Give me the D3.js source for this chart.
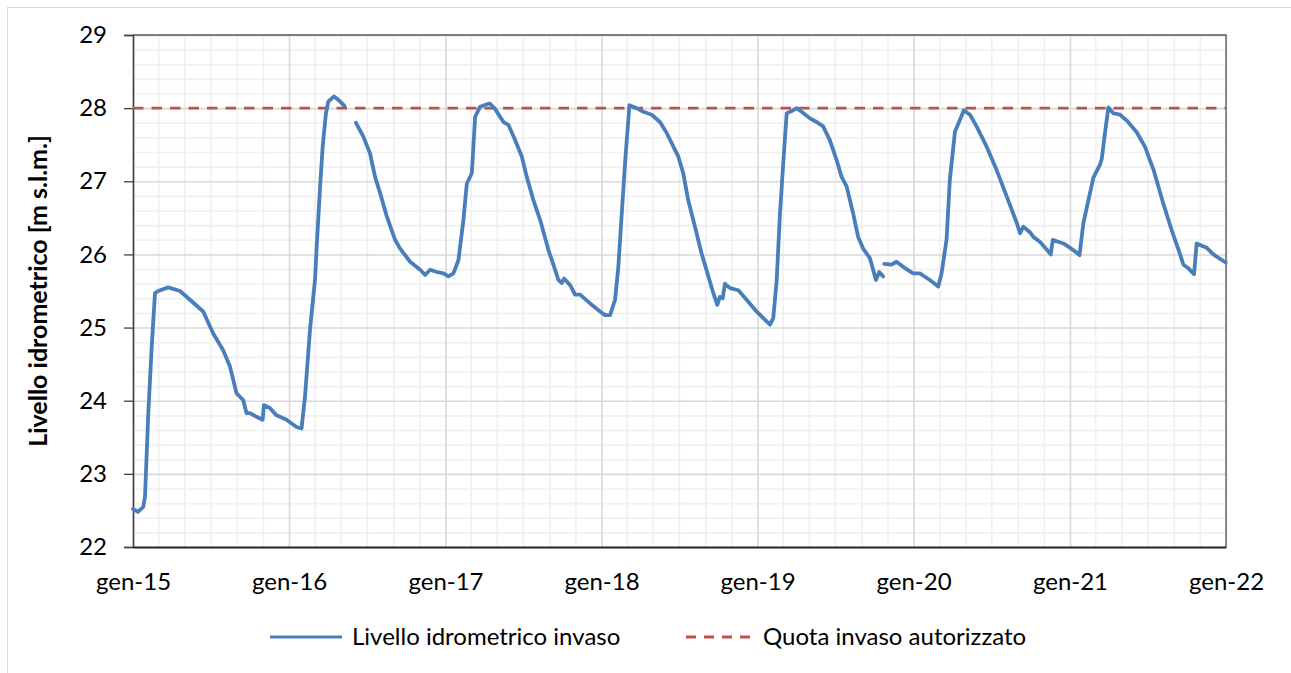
<!DOCTYPE html>
<html>
<head>
<meta charset="utf-8">
<script src="https://cdn.jsdelivr.net/npm/d3@7"></script>
<style>
  html, body { margin: 0; padding: 0; background: #fff; }
  svg { display: block; font-family: Lato, "Open Sans", sans-serif; }
</style>
</head>
<body>
<svg id="chart" width="1291" height="673"></svg>
<script>
// Reservoir water level, decimal years (time) and level in m a.s.l.; null marks a data gap
const timeYears = [
  2015.000, 2015.032, 2015.066, 2015.077, 2015.098, 2015.120, 2015.141, 2015.162, 2015.226, 2015.301,
  2015.365, 2015.450, 2015.514, 2015.578, 2015.621, 2015.664, 2015.706, 2015.728, 2015.749, 2015.792,
  2015.831, 2015.839, 2015.877, 2015.920, 2015.984, 2016.048, 2016.080, 2016.102, 2016.134, 2016.166,
  2016.177, 2016.198, 2016.215, 2016.236, 2016.251, 2016.288, 2016.322, 2016.354, 2016.390, 2016.428,
  2016.475, 2016.518, 2016.550, 2016.582, 2016.625, 2016.678, 2016.710, 2016.774, 2016.838, 2016.870,
  2016.902, 2016.945, 2016.987, 2017.019, 2017.051, 2017.083, 2017.115, 2017.137, 2017.169, 2017.190,
  2017.222, 2017.276, 2017.286, 2017.318, 2017.350, 2017.372, 2017.404, 2017.447, 2017.489, 2017.521,
  2017.564, 2017.607, 2017.660, 2017.703, 2017.724, 2017.746, 2017.760, 2017.799, 2017.831, 2017.863,
  2017.927, 2017.991, 2018.023, 2018.055, 2018.087, 2018.108, 2018.130, 2018.151, 2018.179, 2018.226,
  2018.268, 2018.322, 2018.375, 2018.418, 2018.471, 2018.492, 2018.524, 2018.556, 2018.599, 2018.642,
  2018.685, 2018.717, 2018.742, 2018.759, 2018.777, 2018.791, 2018.824, 2018.877, 2018.930, 2018.994,
  2019.037, 2019.080, 2019.101, 2019.123, 2019.144, 2019.165, 2019.187, 2019.219, 2019.251, 2019.283,
  2019.336, 2019.379, 2019.421, 2019.464, 2019.507, 2019.539, 2019.571, 2019.613, 2019.645, 2019.677,
  2019.720, 2019.741, 2019.759, 2019.780, 2019.805, 2019.808, 2019.812, 2019.859, 2019.891, 2019.933,
  2019.997, 2020.040, 2020.104, 2020.158, 2020.179, 2020.211, 2020.232, 2020.265, 2020.297, 2020.322,
  2020.361, 2020.403, 2020.468, 2020.532, 2020.596, 2020.660, 2020.681, 2020.702, 2020.745, 2020.766,
  2020.809, 2020.862, 2020.877, 2020.890, 2020.916, 2020.958, 2021.001, 2021.033, 2021.061, 2021.086,
  2021.118, 2021.150, 2021.193, 2021.204, 2021.225, 2021.246, 2021.278, 2021.321, 2021.364, 2021.428,
  2021.481, 2021.535, 2021.599, 2021.652, 2021.695, 2021.727, 2021.759, 2021.795, 2021.812, 2021.845,
  2021.877, 2021.919, 2021.962, 2021.998
];
const levels = [
  22.52, 22.48, 22.55, 22.69, 23.83, 24.74, 25.47, 25.50, 25.55, 25.50,
  25.38, 25.22, 24.92, 24.69, 24.47, 24.10, 24.01, 23.83, 23.83, 23.78,
  23.74, 23.94, 23.90, 23.80, 23.74, 23.64, 23.62, 24.05, 24.97, 25.65,
  26.11, 26.90, 27.47, 27.93, 28.09, 28.16, 28.10, 28.03, null,  27.80,
  27.61, 27.38, 27.06, 26.84, 26.52, 26.20, 26.08, 25.90, 25.79, 25.72,
  25.79, 25.76, 25.74, 25.70, 25.74, 25.92, 26.47, 26.97, 27.11, 27.88,
  28.02, 28.06, 28.06, 27.99, 27.88, 27.81, 27.77, 27.56, 27.34, 27.06,
  26.74, 26.47, 26.06, 25.79, 25.65, 25.61, 25.67, 25.58, 25.45, 25.45,
  25.33, 25.22, 25.17, 25.17, 25.38, 25.83, 26.56, 27.25, 28.04, 28.00,
  27.95, 27.91, 27.81, 27.66, 27.43, 27.34, 27.11, 26.74, 26.38, 26.01,
  25.70, 25.47, 25.31, 25.42, 25.40, 25.60, 25.54, 25.51, 25.38, 25.22,
  25.13, 25.04, 25.13, 25.65, 26.56, 27.25, 27.93, 27.96, 28.00, 27.95,
  27.86, 27.81, 27.75, 27.56, 27.29, 27.06, 26.93, 26.56, 26.24, 26.08,
  25.95, 25.79, 25.65, 25.76, 25.70, null,  25.87, 25.86, 25.90, 25.83,
  25.74, 25.74, 25.65, 25.56, 25.74, 26.20, 27.02, 27.68, 27.84, 27.97,
  27.91, 27.75, 27.47, 27.15, 26.79, 26.43, 26.29, 26.38, 26.30, 26.24,
  26.17, 26.04, 26.00, 26.20, 26.18, 26.15, 26.09, 26.04, 25.99, 26.43,
  26.74, 27.05, 27.23, 27.31, 27.67, 28.01, 27.93, 27.91, 27.83, 27.67,
  27.47, 27.16, 26.69, 26.33, 26.07, 25.86, 25.81, 25.73, 26.15, 26.12,
  26.09, 26.00, 25.94, 25.89
];
// Authorised maximum reservoir level
const authorisedLevel = 28;

const yTicks = [22, 23, 24, 25, 26, 27, 28, 29];
const xTickYears = [2015, 2016, 2017, 2018, 2019, 2020, 2021, 2022];
const monthNames = ["gen", "feb", "mar", "apr", "mag", "giu", "lug", "ago", "set", "ott", "nov", "dic"];

const seriesName = "Livello idrometrico invaso";
const limitName = "Quota invaso autorizzato";
const yTitle = "Livello idrometrico [m s.l.m.]";

// decimal year -> Date
function toDate(t) {
  const yr = Math.floor(t);
  const a = new Date(yr, 0, 1), b = new Date(yr + 1, 0, 1);
  return new Date(+a + (t - yr) * (b - a));
}

const svg = d3.select("#chart");
const W = 1291, H = 673;
const plot = { left: 133, right: 1226, top: 35, bottom: 547 };
const labelSize = 24;

// outer chart frame
svg.append("rect")
  .attr("x", 7.5).attr("y", 7.5)
  .attr("width", W + 10).attr("height", H + 10)
  .attr("fill", "#fff").attr("stroke", "#d9d9d9").attr("stroke-width", 1);

const x = d3.scaleTime()
  .domain([new Date(2015, 0, 1), new Date(2022, 0, 1)])
  .range([plot.left, plot.right]);
const y = d3.scaleLinear().domain([22, 29]).range([plot.bottom, plot.top]);

const pw = plot.right - plot.left, ph = plot.bottom - plot.top;

// minor grid
const yMinor = d3.range(22, 29.001, 0.2).map(v => +v.toFixed(1)).filter(v => Math.abs(v - Math.round(v)) > 1e-6);
const xMinor = d3.timeMonth.every(2).range(new Date(2015, 0, 1), new Date(2022, 0, 1))
  .filter(d => d.getMonth() !== 0);

svg.append("g")
  .attr("transform", `translate(${plot.left},0)`)
  .call(d3.axisLeft(y).tickValues(yMinor).tickSize(-pw).tickFormat(""))
  .call(g => g.select(".domain").remove())
  .call(g => g.selectAll("line").attr("stroke", "#f0f0f0").attr("stroke-width", 1.6));
svg.append("g")
  .attr("transform", `translate(0,${plot.bottom})`)
  .call(d3.axisBottom(x).tickValues(xMinor).tickSize(-ph).tickFormat(""))
  .call(g => g.select(".domain").remove())
  .call(g => g.selectAll("line").attr("stroke", "#f0f0f0").attr("stroke-width", 1.6));

// major grid
svg.append("g")
  .attr("transform", `translate(${plot.left},0)`)
  .call(d3.axisLeft(y).tickValues(yTicks).tickSize(-pw).tickFormat(""))
  .call(g => g.select(".domain").remove())
  .call(g => g.selectAll("line").attr("stroke", "#d9d9d9").attr("stroke-width", 1.6));
svg.append("g")
  .attr("transform", `translate(0,${plot.bottom})`)
  .call(d3.axisBottom(x).tickValues(xTickYears.map(t => new Date(t, 0, 1))).tickSize(-ph).tickFormat(""))
  .call(g => g.select(".domain").remove())
  .call(g => g.selectAll("line").attr("stroke", "#d9d9d9").attr("stroke-width", 1.6));

// plot area frame (top / right)
svg.append("path")
  .attr("d", `M${plot.left},${plot.top}H${plot.right}V${plot.bottom}`)
  .attr("fill", "none").attr("stroke", "#595959").attr("stroke-width", 1.3);

// y axis
svg.append("g")
  .attr("transform", `translate(${plot.left},0)`)
  .call(d3.axisLeft(y).tickValues(yTicks).tickSize(9).tickPadding(17).tickFormat(d3.format("d")))
  .call(g => g.select(".domain").attr("stroke", "#404040").attr("stroke-width", 1.6))
  .call(g => g.selectAll(".tick line").attr("stroke", "#404040").attr("stroke-width", 1.3))
  .call(g => g.selectAll("text").attr("fill", "#000").attr("font-size", labelSize)
    .attr("font-family", "Lato, sans-serif"));

// x axis
svg.append("g")
  .attr("transform", `translate(0,${plot.bottom})`)
  .call(d3.axisBottom(x).tickValues(xTickYears.map(t => new Date(t, 0, 1))).tickSize(0).tickPadding(26)
    .tickFormat(d => monthNames[d.getMonth()] + "-" + String(d.getFullYear()).slice(2)))
  .call(g => g.select(".domain").attr("stroke", "#262626").attr("stroke-width", 1.8))
  .call(g => g.selectAll("text").attr("fill", "#000").attr("font-size", labelSize)
    .attr("font-family", "Lato, sans-serif"));

// y axis title
svg.append("text")
  .attr("transform", `translate(38,${(plot.top + plot.bottom) / 2}) rotate(-90)`)
  .attr("text-anchor", "middle").attr("dy", "0.35em")
  .attr("font-size", 25).attr("font-weight", "bold").attr("fill", "#000")
  .text(yTitle);

// authorised level line
svg.append("line")
  .attr("x1", plot.left).attr("x2", plot.right)
  .attr("y1", y(authorisedLevel)).attr("y2", y(authorisedLevel))
  .attr("stroke", "#c0504d").attr("stroke-width", 2.8).attr("stroke-dasharray", "10.5,8");

// water level series
const series = timeYears.map((t, i) => ({ date: toDate(t), v: levels[i] }));
const line = d3.line()
  .defined(d => d.v !== null)
  .x(d => x(d.date)).y(d => y(d.v))
  .curve(d3.curveLinear);
svg.append("path")
  .datum(series)
  .attr("d", line)
  .attr("fill", "none").attr("stroke", "#4a7ebb").attr("stroke-width", 3.8)
  .attr("stroke-linejoin", "round").attr("stroke-linecap", "round");

// legend
const legY = 637;
const leg = svg.append("g").attr("font-size", labelSize).attr("fill", "#000");
leg.append("line").attr("x1", 270).attr("x2", 342).attr("y1", legY).attr("y2", legY)
  .attr("stroke", "#4a7ebb").attr("stroke-width", 3);
leg.append("text").attr("x", 352).attr("y", legY).attr("dy", "0.35em").text(seriesName);
leg.append("line").attr("x1", 686).attr("x2", 752).attr("y1", legY).attr("y2", legY)
  .attr("stroke", "#c0504d").attr("stroke-width", 2.8).attr("stroke-dasharray", "10,8");
leg.append("text").attr("x", 763).attr("y", legY).attr("dy", "0.35em").text(limitName);
</script>
</body>
</html>
